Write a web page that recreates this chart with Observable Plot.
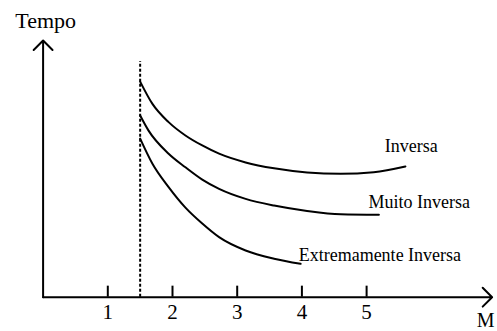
<!DOCTYPE html>
<html>
<head>
<meta charset="utf-8">
<script src="https://cdn.jsdelivr.net/npm/d3@7"></script>
<script src="https://cdn.jsdelivr.net/npm/@observablehq/plot@0.6"></script>
<style>
  html, body { margin: 0; padding: 0; background: #fff; }
</style>
</head>
<body>
<div id="chart"></div>
<script>
// Data
const xTicks = [1, 2, 3, 4, 5];
const pickup = 1.5;       // dashed vertical line position (M)
const pickupTop = 9.18;   // height of dashed line (time units)

const mInversa = [1.5, 1.69, 1.94, 2.2, 2.46, 2.72, 3.13, 3.57, 4.08, 4.6, 5.11, 5.6];
const tInversa = [8.40, 7.53, 6.82, 6.30, 5.91, 5.59, 5.25, 5.02, 4.86, 4.81, 4.87, 5.09];

const mMuito = [1.5, 1.63, 1.94, 2.2, 2.46, 2.72, 3.13, 3.57, 4.08, 4.6, 5.19];
const tMuito = [7.08, 6.49, 5.59, 5.06, 4.58, 4.22, 3.83, 3.57, 3.36, 3.23, 3.21];

const mExtrem = [1.5, 1.69, 1.94, 2.2, 2.46, 2.72, 3.13, 3.57, 3.98];
const tExtrem = [6.18, 5.20, 4.29, 3.49, 2.87, 2.34, 1.82, 1.50, 1.30];

const seriesNames = ["Inversa", "Muito Inversa", "Extremamente Inversa"];
const labelM = [5.28, 5.03, 3.95];
const labelT = [5.65, 3.46, 1.42];

const axisLabelY = "Tempo";
const axisLabelX = "M";

// build tables
const toRows = (name, ms, ts) => ms.map((m, i) => ({name, m, t: ts[i]}));
const curves = [
  ...toRows(seriesNames[0], mInversa, tInversa),
  ...toRows(seriesNames[1], mMuito, tMuito),
  ...toRows(seriesNames[2], mExtrem, tExtrem)
];
const labels = seriesNames.map((name, i) => ({name, m: labelM[i], t: labelT[i]}));

const font = "Liberation Serif";

const chart = Plot.plot({
  width: 497,
  height: 331,
  marginLeft: 42.6,
  marginRight: 1.5,
  marginTop: 40,
  marginBottom: 34.3,
  x: {domain: [0, 7]},
  y: {domain: [0, 10], axis: null},
  style: {background: "#fff", color: "#000", overflow: "visible", fontFamily: font},
  marks: [
    // axes with arrowheads
    Plot.arrow([{x1: 0, y1: 0, x2: 6.94, y2: 0}], {x1: "x1", y1: "y1", x2: "x2", y2: "y2", stroke: "#000", strokeWidth: 2, headLength: 10, headAngle: 90}),
    Plot.arrow([{x1: 0, y1: 0, x2: 0, y2: 10}], {x1: "x1", y1: "y1", x2: "x2", y2: "y2", stroke: "#000", strokeWidth: 2, headLength: 10, headAngle: 90}),
    // inward ticks
    Plot.ruleX(xTicks, {x: d => d, y1: 0, y2: 0.43, stroke: "#000", strokeWidth: 2}),
    Plot.axisX(xTicks, {tickSize: 0, tickPadding: 7, fontSize: 21, fontFamily: font, label: null, fill: "#000"}),
    // dashed pickup line
    Plot.ruleX([pickup], {x: d => d, y1: 0, y2: pickupTop, stroke: "#000", strokeWidth: 2, strokeDasharray: "3,2"}),
    // curves
    Plot.line(curves, {x: "m", y: "t", z: "name", curve: "monotone-x", stroke: "#000", strokeWidth: 2}),
    // curve labels
    Plot.text(labels, {x: "m", y: "t", text: "name", textAnchor: "start", lineAnchor: "bottom", fontSize: 18, fontFamily: font, fill: "#000"}),
    // axis titles
    Plot.text([axisLabelY], {x: 0.04, y: 10.49, text: d => d, textAnchor: "middle", lineAnchor: "bottom", fontSize: 22, fontFamily: font, fill: "#000"}),
    Plot.text([axisLabelX], {x: 6.84, y: -1.18, text: d => d, textAnchor: "middle", lineAnchor: "bottom", fontSize: 20, fontFamily: font, fill: "#000"})
  ]
});
document.getElementById("chart").appendChild(chart);
</script>
</body>
</html>
